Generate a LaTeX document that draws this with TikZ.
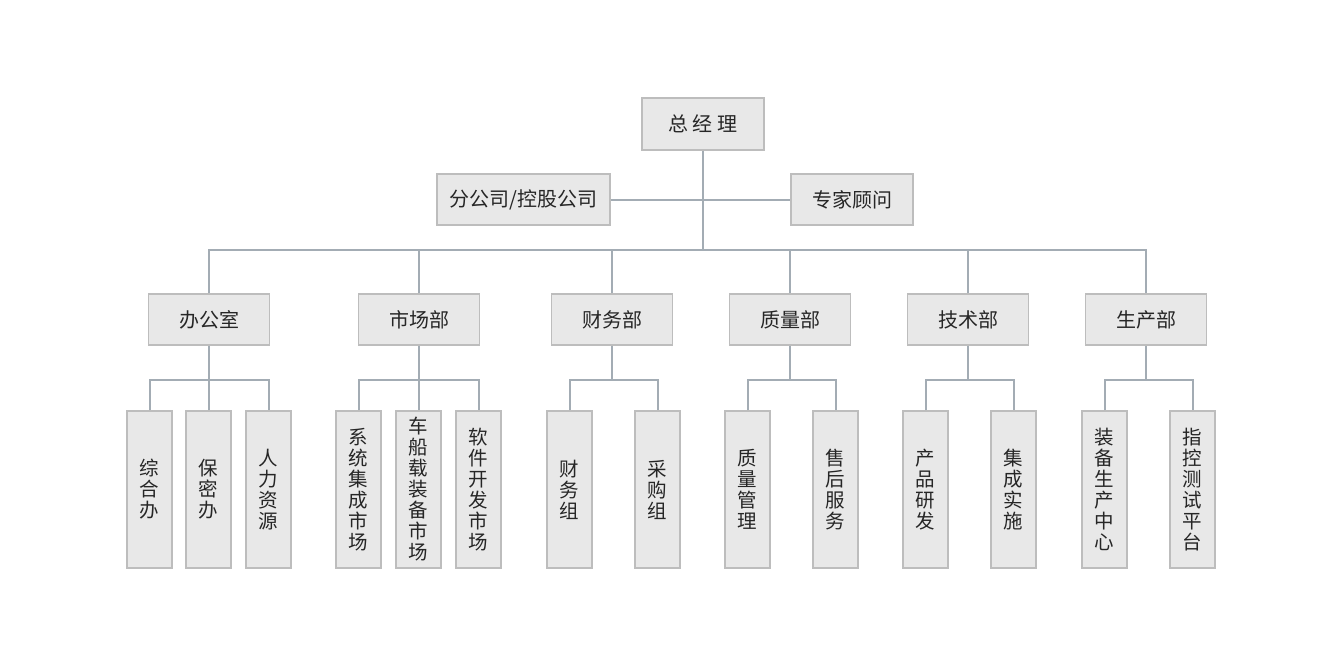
\documentclass[tikz,border=0pt]{standalone}
\usepackage{fontspec}
\setmainfont{Noto Sans CJK SC}
\usepackage{tikz}
\usetikzlibrary{calc}

\definecolor{boxfill}{HTML}{E8E8E8}
\definecolor{boxline}{HTML}{BDBDBD}
\definecolor{linkline}{HTML}{A3ACB4}
\definecolor{txt}{HTML}{262626}

\begin{document}
\begin{tikzpicture}[x=1pt,y=-1pt,
        box/.style={draw=boxline, fill=boxfill, line width=1.2pt,
                        text=txt, inner sep=0pt, minimum height=51,
                        font=\fontsize{20}{21}\selectfont},
        vbox/.style={box, minimum width=45, minimum height=157,
                        align=center, font=\fontsize{19.5}{21}\selectfont},
        ln/.style={draw=linkline, line width=2pt}]
    \useasboundingbox (0,0) rectangle (1324,663);

    % top level
    \node[box, minimum width=122, minimum height=52] (gm) at (703,124) {总 经 理};
    \node[box, minimum width=173] (branch) at (523.5,199.5) {分公司/控股公司};
    \node[box, minimum width=122] (expert) at (852,199.5) {专家顾问};

    % departments
    \node[box, minimum width=121] (ofc)  at (209,319.5)  {办公室};
    \node[box, minimum width=121] (mkt)  at (419,319.5)  {市场部};
    \node[box, minimum width=121] (fin)  at (612,319.5)  {财务部};
    \node[box, minimum width=121] (qa)   at (790,319.5)  {质量部};
    \node[box, minimum width=121] (tech) at (968,319.5)  {技术部};
    \node[box, minimum width=121] (prod) at (1146,319.5) {生产部};

    % groups
    \node[vbox] (ofc1)  at (149.5,489.5)  {综\\合\\办};
    \node[vbox] (ofc2)  at (208.5,489.5)  {保\\密\\办};
    \node[vbox] (ofc3)  at (268.5,489.5)  {人\\力\\资\\源};
    \node[vbox] (mkt1)  at (358.5,489.5)  {系\\统\\集\\成\\市\\场};
    \node[vbox] (mkt2)  at (418.5,489.5)  {车\\船\\载\\装\\备\\市\\场};
    \node[vbox] (mkt3)  at (478.5,489.5)  {软\\件\\开\\发\\市\\场};
    \node[vbox] (fin1)  at (569.5,489.5)  {财\\务\\组};
    \node[vbox] (fin2)  at (657.5,489.5)  {采\\购\\组};
    \node[vbox] (qa1)   at (747.5,489.5)  {质\\量\\管\\理};
    \node[vbox] (qa2)   at (835.5,489.5)  {售\\后\\服\\务};
    \node[vbox] (tech1) at (925.5,489.5)  {产\\品\\研\\发};
    \node[vbox] (tech2) at (1013.5,489.5) {集\\成\\实\\施};
    \node[vbox] (prod1) at (1104.5,489.5) {装\\备\\生\\产\\中\\心};
    \node[vbox] (prod2) at (1192.5,489.5) {指\\控\\测\\试\\平\\台};

    \coordinate (bus) at (703,250);
    \foreach \d in {ofc,mkt,fin,qa,tech,prod}
        \coordinate (\d j) at ($(\d.south)+(0,34)$);

    \draw[ln]
        (gm.south) -- (bus)
        (branch.east) -- (expert.west)
        (ofc.north) |- (bus) -| (prod.north)
        (mkt.north) -- (mkt.north |- bus)
        (fin.north) -- (fin.north |- bus)
        (qa.north) -- (qa.north |- bus)
        (tech.north) -- (tech.north |- bus)

        (ofc.south) -- (ofcj)
        (ofc1.north) |- (ofcj) -| (ofc3.north)
        (ofc2.north) -- (ofc2.north |- ofcj)
        (mkt.south) -- (mktj)
        (mkt1.north) |- (mktj) -| (mkt3.north)
        (mkt2.north) -- (mkt2.north |- mktj)
        (fin.south) -- (finj)
        (fin1.north) |- (finj) -| (fin2.north)
        (qa.south) -- (qaj)
        (qa1.north) |- (qaj) -| (qa2.north)
        (tech.south) -- (techj)
        (tech1.north) |- (techj) -| (tech2.north)
        (prod.south) -- (prodj)
        (prod1.north) |- (prodj) -| (prod2.north)
    ;
\end{tikzpicture}
\end{document}
